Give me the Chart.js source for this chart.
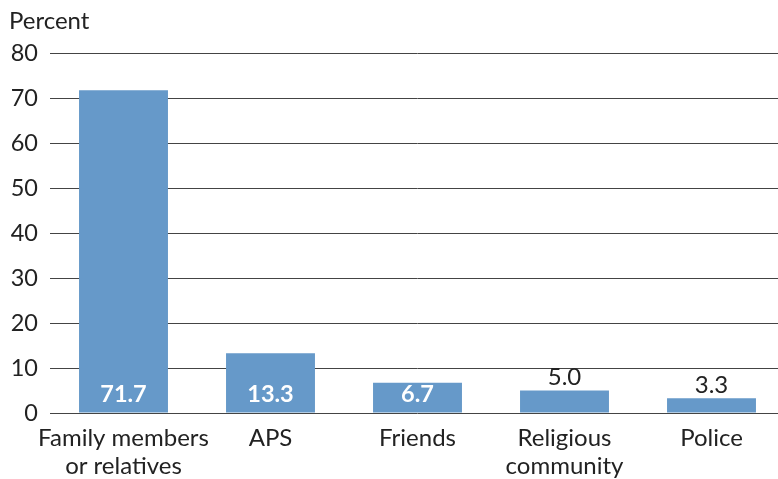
<!DOCTYPE html>
<html>
<head>
<meta charset="utf-8">
<script src="https://cdn.jsdelivr.net/npm/chart.js@4/dist/chart.umd.min.js"></script>
<style>
  html, body { margin: 0; padding: 0; background: #fff; overflow: hidden; }
  #wrap { width: 785px; height: 479px; }
</style>
</head>
<body>
<div id="wrap"><canvas id="c"></canvas></div>
<script>
const categories = [
  ["Family members", "or relatives"],
  "APS",
  "Friends",
  ["Religious", "community"],
  "Police",
];
const values = [71.7, 13.3, 6.7, 5.0, 3.3];
const yTicks = [0, 10, 20, 30, 40, 50, 60, 70, 80];

const barColor = "#6699c9";
const textColor = "#222";
const font = "Lato, 'Open Sans', sans-serif";

// value labels: inside (white bold) for the taller bars, above for the short ones
const valueLabels = {
  id: "valueLabels",
  afterDatasetsDraw(chart) {
    const ctx = chart.ctx;
    const meta = chart.getDatasetMeta(0);
    ctx.save();
    ctx.textAlign = "center";
    ctx.textBaseline = "middle";
    meta.data.forEach((bar, i) => {
      const v = values[i];
      const txt = v.toFixed(1);
      if (v > 6) {
        ctx.font = "bold 23.5px " + font;
        ctx.fillStyle = "#fff";
        ctx.fillText(txt, bar.x, bar.base - 18);
      } else {
        ctx.font = "24px " + font;
        ctx.fillStyle = textColor;
        ctx.fillText(txt, bar.x, bar.y - 13);
      }
    });
    ctx.font = "24px " + font;
    ctx.fillStyle = textColor;
    ctx.textAlign = "left";
    ctx.fillText("Percent", 9, 21);
    ctx.restore();
  },
};

new Chart(document.getElementById("c"), {
  type: "bar",
  data: {
    labels: categories,
    datasets: [{
      data: values,
      backgroundColor: barColor,
      barPercentage: 0.605,
      categoryPercentage: 1,
    }],
  },
  options: {
    responsive: true,
    maintainAspectRatio: false,
    animation: false,
    layout: { padding: { top: 53, left: 0, right: 0, bottom: 0 } },
    plugins: { legend: { display: false }, tooltip: { enabled: false } },
    scales: {
      x: {
        grid: { display: false, drawTicks: false },
        border: { display: false },
        ticks: { color: textColor, font: { family: font, size: 24, lineHeight: 1.17 }, padding: 11, maxRotation: 0, autoSkip: false },
        afterFit(s) { s.height = 66; },
      },
      y: {
        min: 0,
        max: 80,
        afterBuildTicks(s) { s.ticks = yTicks.map((v) => ({ value: v })); },
        grid: { color: "#444", lineWidth: 1, drawTicks: false },
        border: { display: false },
        ticks: { color: textColor, font: { family: font, size: 23.5 }, padding: 12 },
        afterFit(s) { s.width = 50; },
      },
    },
  },
  plugins: [valueLabels],
});
</script>
</body>
</html>
